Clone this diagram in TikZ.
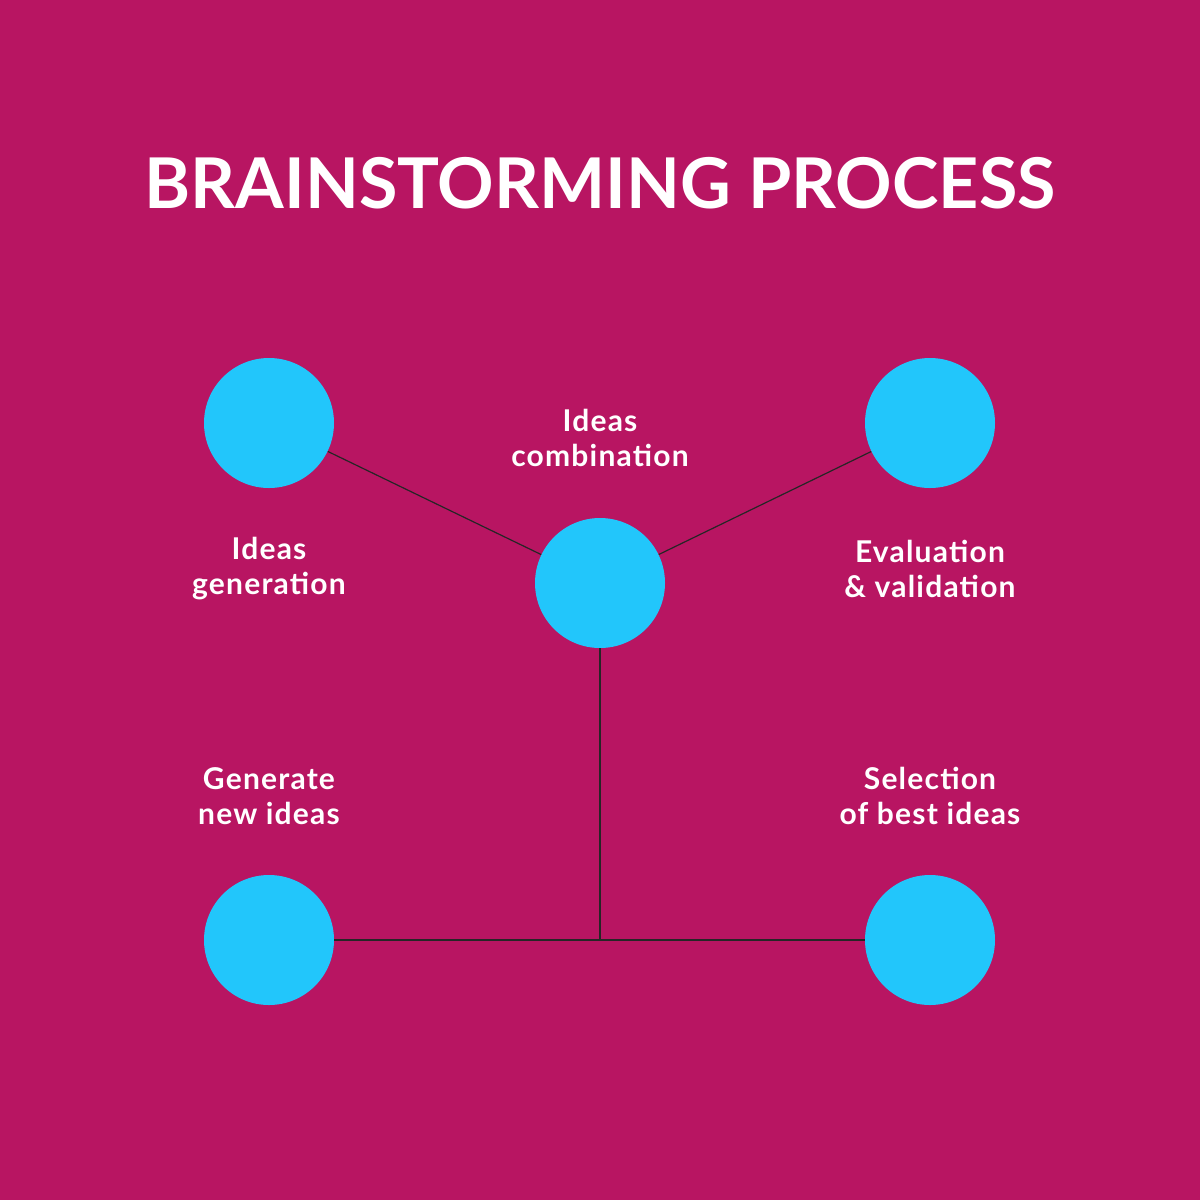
\documentclass[tikz,border=0pt]{standalone}
\usepackage{fontspec}
\setmainfont{Lato}
\newfontfamily\lbl[LetterSpace=4]{Lato}
\definecolor{bg}{HTML}{B81562}
\definecolor{dot}{HTML}{22C6FB}
\begin{document}
\begin{tikzpicture}[x=0.5pt,y=-0.5pt,
  dot/.style={circle,fill=dot,minimum size=65pt,inner sep=0pt},
  lab/.style={text=white,align=center,font=\lbl\bfseries\fontsize{15}{17.5}\selectfont},
  con/.style={draw=black!85,line width=0.6pt}]
\fill[bg] (0,0) rectangle (1200,1200);
\useasboundingbox (0,0) rectangle (1200,1200);
\node[text=white,font=\bfseries\fontsize{35}{40}\selectfont] (title) at (600,183) {BRAINSTORMING PROCESS};
\node[dot] (gen) at (269,423) {};
\node[dot] (eva) at (930,423) {};
\node[dot] (com) at (600,583) {};
\node[dot] (new) at (269,940) {};
\node[dot] (sel) at (930,940) {};
\coordinate (j) at (600,940);
\draw[con] (gen) -- (com);
\draw[con] (eva) -- (com);
\draw[con] (com) -- (j);
\draw[con] (new) -- (sel);
\node[lab] (l1) at (600,438) {Ideas\\combination};
\node[lab] (l2) at (269,569) {Ideas\\generation};
\node[lab] (l3) at (930,569) {Evaluation\\\& validation};
\node[lab] (l4) at (269,796) {Generate\\new ideas};
\node[lab] (l5) at (930,796) {Selection\\of best ideas};
\end{tikzpicture}
\end{document}
